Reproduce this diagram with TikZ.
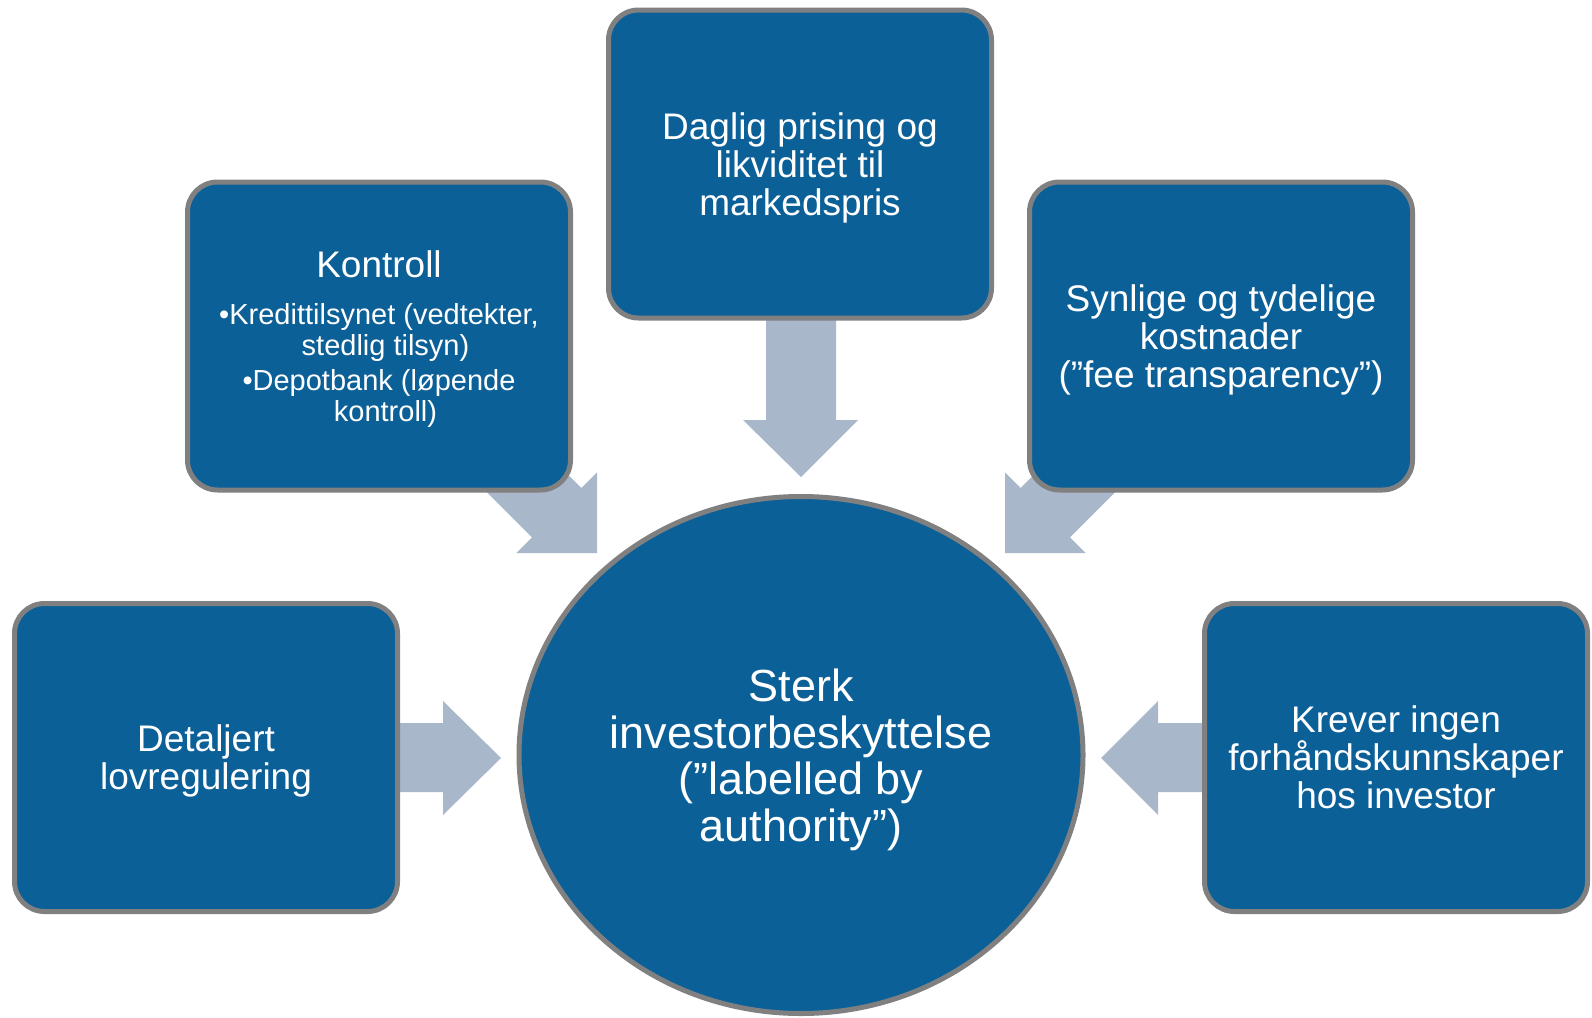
\documentclass[tikz,border=0pt]{standalone}
\usepackage{fontspec}
\setmainfont{Liberation Sans}
\usetikzlibrary{shapes.geometric}
\definecolor{boxblue}{RGB}{12,96,152}
\definecolor{arrowgray}{RGB}{169,183,203}
\definecolor{bordergray}{RGB}{128,128,128}
\begin{document}
\begin{tikzpicture}[x=1pt,y=-1pt,
  box/.style={draw=bordergray, line width=5pt, fill=boxblue, rounded corners=30pt,
    minimum width=383pt, minimum height=308pt, text=white, align=center, inner sep=0pt,
    text depth=0pt, font=\fontsize{37}{38}\selectfont},
  hub/.style={ellipse, draw=bordergray, line width=5pt, fill=boxblue,
    minimum width=564pt, minimum height=517pt, text=white, align=center, inner sep=0pt,
    text depth=-3pt, font=\fontsize{45}{46.5}\selectfont},
  blockarrow/.style={fill=arrowgray, draw=none}]
\useasboundingbox (0,0) rectangle (1592,1017);
% block arrows (behind the boxes)
\fill[blockarrow] (766,290) -- (836,290) -- (836,420) -- (858,420) -- (801,477) -- (743,420) -- (766,420) -- cycle;
\fill[blockarrow] (370,723) -- (443,723) -- (443,701) -- (501,758) -- (443,815) -- (443,792) -- (370,792) -- cycle;
\fill[blockarrow] (1230,723) -- (1158,723) -- (1158,701) -- (1101,758) -- (1158,815) -- (1158,792) -- (1230,792) -- cycle;
\fill[blockarrow] (475.4,382) -- (581.4,488) -- (597,472.4) -- (597,553) -- (516.4,553) -- (532,537.4) -- (426,431.4) -- cycle;
\fill[blockarrow] (1126.6,382) -- (1020.6,488) -- (1005,472.4) -- (1005,553) -- (1085.6,553) -- (1070,537.4) -- (1176,431.4) -- cycle;
% boxes
\node[box] (daglig) at (800,164) {Daglig prising og\\likviditet til\\markedspris};
\node[box, font=\fontsize{29}{30.5}\selectfont, text depth=-4pt] (kontroll) at (379,336)
  {{\fontsize{37}{38}\selectfont Kontroll}\\[17pt]
   •Kredittilsynet (vedtekter,\\
   \hspace*{13pt}stedlig tilsyn)\\[5pt]
   •Depotbank (løpende\\
   \hspace*{13pt}kontroll)};
\node[box] (synlige) at (1221,336) {Synlige og tydelige\\kostnader\\(”fee transparency”)};
\node[box] (detaljert) at (206,757.5) {Detaljert\\lovregulering};
\node[box] (krever) at (1396,757.5) {Krever ingen\\forhåndskunnskaper\\hos investor};
\node[hub] (sterk) at (801,755) {Sterk\\investorbeskyttelse\\(”labelled by\\authority”)};
\end{tikzpicture}
\end{document}
